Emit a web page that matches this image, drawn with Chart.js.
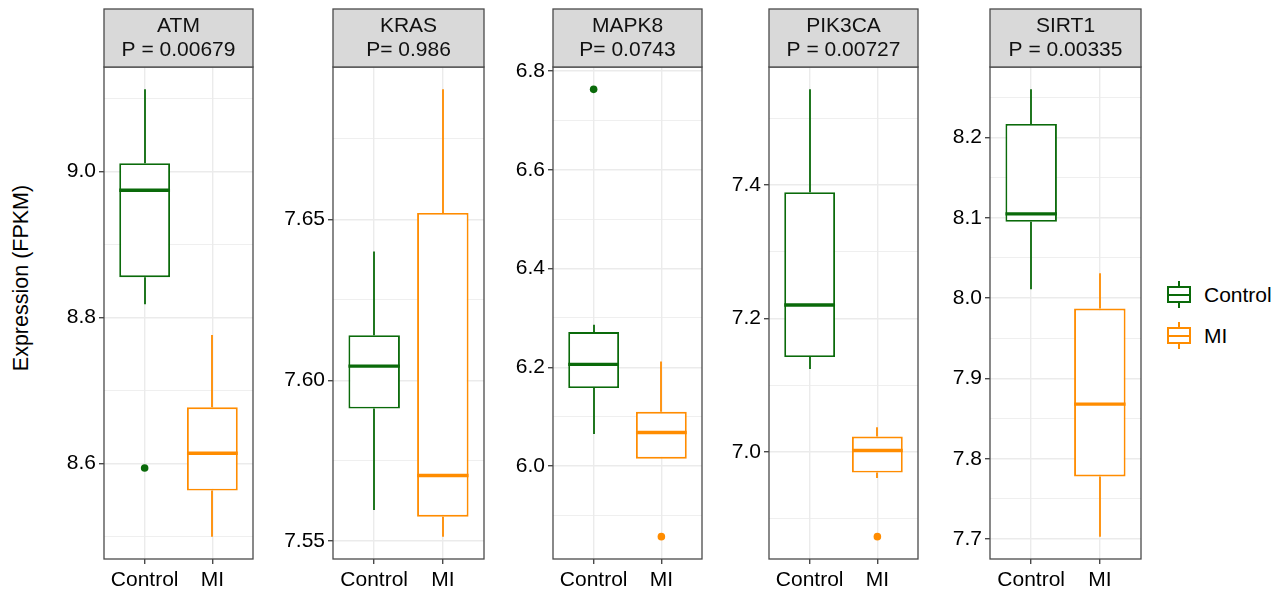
<!DOCTYPE html>
<html>
<head>
<meta charset="utf-8">
<script src="https://cdn.jsdelivr.net/npm/chart.js@4.4.1/dist/chart.umd.min.js"></script>
<style>
  body { margin: 0; background: #fff; width: 1281px; height: 594px; overflow: hidden; position: relative;
         font-family: 'Liberation Sans', Arial, Helvetica, sans-serif; }
  canvas { position: absolute; top: 0; }
  .ytitle { position: absolute; left: 21px; top: 278px; transform: translate(-50%, -50%) rotate(-90deg);
            font-size: 21.5px; white-space: nowrap; color: #000; }
  .key { position: absolute; width: 24px; height: 17px; border: 2px solid; box-sizing: border-box; }
  .key .med { position: absolute; left: 0; right: 0; top: 5.5px; height: 2px; }
  .key .wh { position: absolute; left: 9px; width: 2px; height: 5px; }
  .ltext { position: absolute; left: 1204px; font-size: 21px; line-height: 24px; color: #000; }
</style>
</head>
<body>
<div class="ytitle">Expression (FPKM)</div>
<div id="legend"></div>
<script>
// facets
const genes = ['ATM', 'KRAS', 'MAPK8', 'PIK3CA', 'SIRT1'];
const pLabels = ['P = 0.00679', 'P= 0.986', 'P= 0.0743', 'P = 0.00727', 'P = 0.00335'];
const groups = ['Control', 'MI'];
const groupColors = ['#0A6A0A', '#FF8C00'];

// [lower whisker, Q1, median, Q3, upper whisker]
const controlStats = [
  [8.818, 8.855, 8.974, 9.011, 9.112],
  [7.5597, 7.5912, 7.6044, 7.614, 7.640],
  [6.065, 6.158, 6.206, 6.2715, 6.286],
  [7.124, 7.142, 7.220, 7.389, 7.543],
  [8.011, 8.095, 8.105, 8.217, 8.260]
];
const miStats = [
  [8.500, 8.563, 8.614, 8.677, 8.776],
  [7.5514, 7.5576, 7.5704, 7.652, 7.6904],
  [6.015, 6.015, 6.068, 6.110, 6.212],
  [6.961, 6.969, 7.002, 7.023, 7.037],
  [7.703, 7.778, 7.868, 7.987, 8.031]
];
const controlOutliers = [[8.594], [], [6.763], [], []];
const miOutliers = [[], [], [5.857], [6.873], []];

// y axis breaks
const majorTicks = [
  [8.6, 8.8, 9.0],
  [7.55, 7.60, 7.65],
  [6.0, 6.2, 6.4, 6.6, 6.8],
  [7.0, 7.2, 7.4],
  [7.7, 7.8, 7.9, 8.0, 8.1, 8.2]
];
const tickLabels = [
  ['8.6', '8.8', '9.0'],
  ['7.55', '7.60', '7.65'],
  ['6.0', '6.2', '6.4', '6.6', '6.8'],
  ['7.0', '7.2', '7.4'],
  ['7.7', '7.8', '7.9', '8.0', '8.1', '8.2']
];
const minorTicks = [
  [8.5, 8.7, 8.9, 9.1],
  [7.575, 7.625, 7.675],
  [5.9, 6.1, 6.3, 6.5, 6.7],
  [6.9, 7.1, 7.3, 7.5],
  [7.75, 7.85, 7.95, 8.05, 8.15, 8.25]
];

const panelLeft = [104, 333, 553, 769, 990];
const panelW = 151;
const axisW = 75;
const FONT = "'Liberation Sans', Arial, Helvetica, sans-serif";

const boxPlugin = {
  id: 'boxes',
  beforeDatasetsDraw(chart, args, opts) {
    const { ctx, chartArea: a } = chart;
    const x = chart.scales.x, y = chart.scales.y;
    ctx.save();
    ctx.beginPath(); ctx.rect(a.left, a.top, a.right - a.left, a.bottom - a.top); ctx.clip();
    opts.stats.forEach((s, i) => {
      const px = Math.round(x.getPixelForValue(i + 1));
      ctx.strokeStyle = groupColors[i];
      ctx.lineWidth = 1.8;
      ctx.beginPath();
      ctx.moveTo(px, y.getPixelForValue(s[0])); ctx.lineTo(px, y.getPixelForValue(s[1]));
      ctx.moveTo(px, y.getPixelForValue(s[3])); ctx.lineTo(px, y.getPixelForValue(s[4]));
      ctx.stroke();
    });
    ctx.restore();
  },
  afterDatasetsDraw(chart, args, opts) {
    const { ctx } = chart;
    const y = chart.scales.y;
    const bars = chart.getDatasetMeta(1).data;
    ctx.save();
    opts.stats.forEach((s, i) => {
      const b = bars[i];
      const py = y.getPixelForValue(s[2]);
      ctx.strokeStyle = groupColors[i];
      ctx.lineWidth = 3.4;
      ctx.beginPath();
      ctx.moveTo(b.x - b.width / 2, py); ctx.lineTo(b.x + b.width / 2, py);
      ctx.stroke();
    });
    ctx.restore();
  },
  afterDraw(chart, args, opts) {
    const { ctx, chartArea: a } = chart;
    ctx.save();
    ctx.strokeStyle = '#4a4a4a';
    ctx.lineWidth = 1.3;
    ctx.strokeRect(a.left, a.top, a.right - a.left, a.bottom - a.top);
    // facet strip
    ctx.fillStyle = '#D9D9D9';
    ctx.fillRect(a.left, 9, a.right - a.left, a.top - 9);
    ctx.strokeRect(a.left, 9, a.right - a.left, a.top - 9);
    ctx.fillStyle = '#111';
    ctx.font = '21px ' + FONT;
    ctx.textAlign = 'center';
    ctx.textBaseline = 'middle';
    const cx = (a.left + a.right) / 2;
    ctx.fillText(opts.gene, cx, 26);
    ctx.fillText(opts.p, cx, 50);
    ctx.restore();
  }
};

genes.forEach((gene, g) => {
  const canvas = document.createElement('canvas');
  canvas.width = axisW + panelW + 2;
  canvas.height = 594;
  canvas.style.left = (panelLeft[g] - axisW) + 'px';
  document.body.appendChild(canvas);

  const stats = [controlStats[g], miStats[g]];
  const outPts = [], outCols = [];
  [controlOutliers[g], miOutliers[g]].forEach((arr, i) => {
    arr.forEach(v => { outPts.push({ x: i + 1, y: v }); outCols.push(groupColors[i]); });
  });
  const allVals = stats.flat().concat(controlOutliers[g], miOutliers[g]);
  const lo = Math.min(...allVals), hi = Math.max(...allVals);
  const pad = (hi - lo) * 0.05;
  const majors = majorTicks[g];
  const isMajor = v => majors.some(m => Math.abs(m - v) < 1e-6);

  new Chart(canvas, {
    type: 'bar',
    data: {
      datasets: [
        {
          type: 'scatter',
          data: outPts,
          pointRadius: 3.8,
          pointBorderWidth: 0,
          pointBackgroundColor: outCols,
          order: 0
        },
        {
          type: 'bar',
          data: stats.map((s, i) => ({ x: i + 1, y: [s[1], s[3]] })),
          backgroundColor: '#ffffff',
          borderColor: groupColors,
          borderWidth: 1.9,
          borderSkipped: false,
          categoryPercentage: 1,
          barPercentage: 0.75,
          order: 1
        }
      ]
    },
    options: {
      responsive: false,
      animation: false,
      events: [],
      layout: { padding: { top: 67, right: 2, left: 0, bottom: 0 } },
      plugins: {
        legend: { display: false },
        tooltip: { enabled: false },
        boxes: { stats: stats, gene: gene, p: pLabels[g] }
      },
      scales: {
        x: {
          type: 'linear',
          offset: false,
          min: 0.4,
          max: 2.6,
          afterBuildTicks: s => { s.ticks = groups.map((n, i) => ({ value: i + 1 })); },
          afterFit: s => { s.height = 35; },
          ticks: {
            callback: v => groups[v - 1],
            color: '#000',
            font: { size: 21, family: FONT },
            padding: 4,
            maxRotation: 0,
            autoSkip: false
          },
          grid: { offset: false, color: '#EBEBEB', lineWidth: 1.4, tickColor: '#4a4a4a', tickLength: 5 },
          border: { display: false }
        },
        y: {
          type: 'linear',
          min: lo - pad,
          max: hi + pad,
          afterBuildTicks: s => {
            s.ticks = majors.concat(minorTicks[g]).sort((a, b) => a - b).map(v => ({ value: v }));
          },
          afterFit: s => { s.width = axisW; },
          ticks: {
            callback: v => { const k = majors.findIndex(m => Math.abs(m - v) < 1e-6); return k >= 0 ? tickLabels[g][k] : ''; },
            color: '#000',
            font: { size: 21, family: FONT },
            padding: 3,
            autoSkip: false
          },
          grid: {
            color: '#EBEBEB',
            lineWidth: c => (c.tick && isMajor(c.tick.value)) ? 1.4 : 0.8,
            tickColor: c => (c.tick && isMajor(c.tick.value)) ? '#4a4a4a' : 'rgba(0,0,0,0)',
            tickLength: 5
          },
          border: { display: false }
        }
      }
    },
    plugins: [boxPlugin]
  });
});

// legend
const legendTop = [286, 327];
const legend = document.getElementById('legend');
groups.forEach((name, i) => {
  const key = document.createElement('div');
  key.className = 'key';
  key.style.left = '1167px';
  key.style.top = legendTop[i] + 'px';
  key.style.borderColor = groupColors[i];
  key.innerHTML = '<div class="med" style="background:' + groupColors[i] + '"></div>' +
    '<div class="wh" style="top:-7px;background:' + groupColors[i] + '"></div>' +
    '<div class="wh" style="top:15px;background:' + groupColors[i] + '"></div>';
  legend.appendChild(key);
  const t = document.createElement('div');
  t.className = 'ltext';
  t.style.top = (legendTop[i] + 8.5 - 12) + 'px';
  t.textContent = name;
  legend.appendChild(t);
});
</script>
</body>
</html>
